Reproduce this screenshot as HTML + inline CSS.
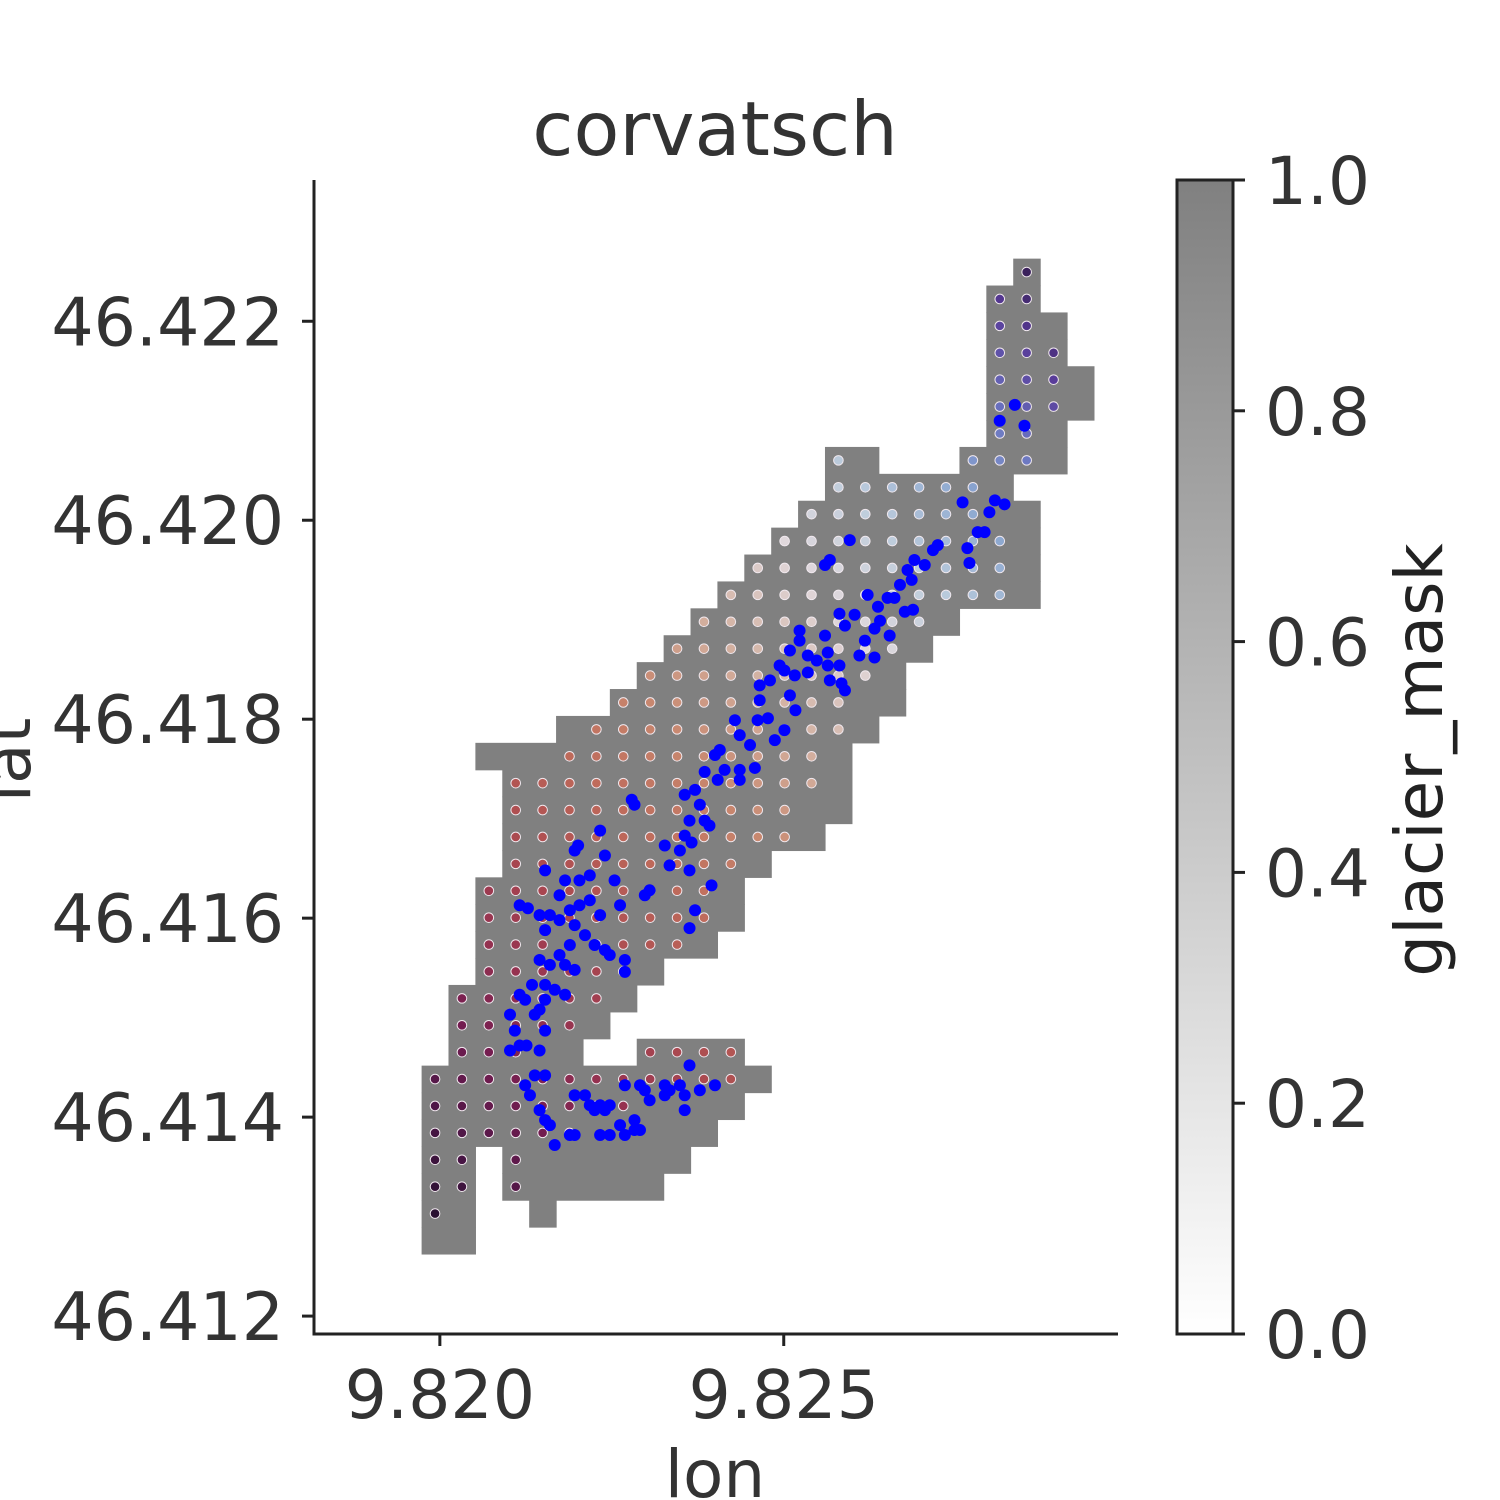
<!DOCTYPE html>
<html><head><meta charset="utf-8"><style>
html,body{margin:0;padding:0;background:#fff;}
svg{display:block;font-family:"DejaVu Sans","Liberation Sans",sans-serif;}
</style></head><body>
<svg id="chart" width="1500" height="1500" viewBox="0 0 1500 1500" xmlns="http://www.w3.org/2000/svg">
<defs><linearGradient id="cbg" x1="0" y1="1" x2="0" y2="0"><stop offset="0" stop-color="#ffffff"/><stop offset="1" stop-color="#808080"/></linearGradient></defs>
<text x="715" y="155" font-size="75" fill="#333" text-anchor="middle">corvatsch</text>
<g id="plot"></g>
<g id="axes"></g>
<text x="715" y="1497" font-size="66" fill="#333" text-anchor="middle">lon</text>
<text transform="translate(30,760) rotate(-90)" font-size="66" fill="#333" text-anchor="middle">lat</text>
<rect x="1177" y="180" width="56" height="1154" fill="url(#cbg)" stroke="#222" stroke-width="3"/>
<g id="cbar"></g>
<text transform="translate(1442,760) rotate(-90)" font-size="66" fill="#222" text-anchor="middle">glacier_mask</text>
</svg>
<script>
const xTicks=[9.820,9.825];
const xTickLabels=["9.820","9.825"];
const yTicks=[46.412,46.414,46.416,46.418,46.420,46.422];
const yTickLabels=["46.412","46.414","46.416","46.418","46.420","46.422"];
const cbTicks=[0,0.2,0.4,0.6,0.8,1.0];
const cbTickLabels=["0.0","0.2","0.4","0.6","0.8","1.0"];
const gridLon0=9.81993, gridDLon=0.000391, gridLat0=46.41276, gridDLat=0.0002704;
const maskRows=[[[0,1]],[[0,1],[4,4]],[[0,1],[3,8]],[[0,1],[3,9]],[[0,10]],[[0,11]],[[0,12]],[[1,5],[8,11]],[[1,6]],[[1,7]],[[2,8]],[[2,10]],[[2,11]],[[2,11]],[[3,12]],[[3,14]],[[3,15]],[[3,15]],[[2,15]],[[5,16]],[[7,17]],[[8,17]],[[9,18]],[[10,19]],[[11,22]],[[12,22]],[[13,22]],[[14,22]],[[15,21]],[[15,16],[20,23]],[[21,23]],[[21,24]],[[21,24]],[[21,23]],[[21,23]],[[21,22]],[[22,22]]];
const dotRows=[[],[[0,0]],[[0,1],[3,3]],[[0,1],[3,3]],[[0,5]],[[0,7]],[[0,11]],[[1,3],[8,11]],[[1,5]],[[1,6]],[[2,7]],[[2,9]],[[2,10]],[[2,10]],[[3,11]],[[3,13]],[[3,13]],[[3,14]],[[5,14]],[[6,15]],[[7,15]],[[8,16]],[[9,17]],[[10,18]],[[11,21]],[[12,21]],[[13,21]],[[14,20]],[[15,20]],[[15,15],[20,22]],[[21,22]],[[21,23]],[[21,23]],[[21,23]],[[21,22]],[[21,22]],[[22,22]]];
const obsLon=[9.82821,9.82807,9.82799,9.82792,9.82782,9.82767,9.82770,9.82760,9.82814,9.82836,9.82850,9.82724,9.82717,9.82705,9.82690,9.82680,9.82686,9.82669,9.82661,9.82688,9.82676,9.82651,9.82637,9.82622,9.82640,9.82632,9.82618,9.82610,9.82632,9.82654,9.82589,9.82560,9.82564,9.82564,9.82548,9.82581,9.82584,9.82589,9.82567,9.82535,9.82523,9.82509,9.82535,9.82516,9.82501,9.82509,9.82517,9.82501,9.82487,9.82465,9.82477,9.82462,9.82451,9.82436,9.82480,9.82494,9.82414,9.82436,9.82458,9.82407,9.82400,9.82385,9.82371,9.82356,9.82378,9.82363,9.82385,9.82392,9.82356,9.82349,9.82366,9.82327,9.82334,9.82363,9.82395,9.82371,9.82363,9.82305,9.82298,9.82283,9.82279,9.82233,9.82240,9.82254,9.82262,9.82218,9.82218,9.82233,9.82203,9.82203,9.82196,9.82211,9.82225,9.82240,9.82247,9.82269,9.82269,9.82196,9.82201,9.82182,9.82174,9.82189,9.82174,9.82160,9.82153,9.82189,9.82174,9.82182,9.82160,9.82145,9.82196,9.82153,9.82167,9.82182,9.82153,9.82116,9.82128,9.82145,9.82102,9.82109,9.82116,9.82126,9.82138,9.82145,9.82153,9.82145,9.82138,9.82153,9.82124,9.82131,9.82145,9.82153,9.82160,9.82167,9.82189,9.82196,9.82196,9.82211,9.82218,9.82225,9.82233,9.82240,9.82247,9.82262,9.82247,9.82269,9.82283,9.82283,9.82269,9.82291,9.82298,9.82305,9.82327,9.82327,9.82334,9.82349,9.82356,9.82356,9.82363,9.82378,9.82400,9.82102,9.82116,9.82124,9.82134,9.82596,9.82567,9.82560,9.82581,9.82603,9.82465,9.82429,9.82404,9.82436,9.82523,9.82153,9.82291,9.82233];
const obsLat=[46.42016,46.42020,46.42008,46.41988,46.41988,46.41972,46.41957,46.42018,46.42100,46.42116,46.42095,46.41975,46.41970,46.41955,46.41960,46.41950,46.41940,46.41935,46.41922,46.41910,46.41908,46.41922,46.41913,46.41925,46.41899,46.41891,46.41879,46.41864,46.41862,46.41884,46.41894,46.41884,46.41867,46.41854,46.41859,46.41854,46.41836,46.41829,46.41839,46.41864,46.41879,46.41869,46.41847,46.41844,46.41849,46.41824,46.41809,46.41789,46.41779,46.41819,46.41801,46.41799,46.41774,46.41784,46.41839,46.41854,46.41749,46.41749,46.41751,46.41769,46.41764,46.41747,46.41729,46.41724,46.41714,46.41698,46.41698,46.41693,46.41683,46.41668,46.41676,46.41673,46.41653,46.41648,46.41633,46.41608,46.41590,46.41628,46.41623,46.41714,46.41719,46.41688,46.41663,46.41638,46.41613,46.41643,46.41618,46.41603,46.41638,46.41613,46.41593,46.41583,46.41573,46.41568,46.41563,46.41558,46.41546,46.41668,46.41673,46.41638,46.41623,46.41608,46.41598,46.41603,46.41588,46.41573,46.41563,46.41553,46.41553,46.41558,46.41548,46.41533,46.41528,46.41523,46.41648,46.41613,46.41610,46.41603,46.41503,46.41487,46.41472,46.41472,46.41503,46.41508,46.41487,46.41467,46.41442,46.41442,46.41432,46.41422,46.41407,46.41397,46.41392,46.41372,46.41382,46.41382,46.41422,46.41422,46.41412,46.41407,46.41412,46.41407,46.41412,46.41392,46.41382,46.41382,46.41387,46.41397,46.41432,46.41432,46.41427,46.41417,46.41432,46.41422,46.41427,46.41432,46.41422,46.41407,46.41452,46.41427,46.41432,46.41467,46.41523,46.41518,46.41533,46.41980,46.41960,46.41955,46.41906,46.41905,46.41834,46.41799,46.41739,46.41739,46.41889,46.41518,46.41387,46.41382];

const NS="http://www.w3.org/2000/svg";
const X0=314,X1=1118,Y0=1334,Y1=180;
const lonMin=9.81817,lonMax=9.82986,latMin=46.41182,latMax=46.42342;
function sx(v){return X0+(v-lonMin)/(lonMax-lonMin)*(X1-X0);}
function sy(v){return Y0-(v-latMin)/(latMax-latMin)*(Y0-Y1);}
function cy(v){return Y0-v*(Y0-Y1);}
function mk(t,a,p){const e=document.createElementNS(NS,t);for(const k in a)e.setAttribute(k,a[k]);p.appendChild(e);return e;}
const plot=document.getElementById('plot'),axes=document.getElementById('axes'),cbar=document.getElementById('cbar');
const stops=[[0,[40,16,48]],[0.06,[75,22,70]],[0.13,[115,28,80]],[0.2,[150,50,80]],[0.28,[172,75,80]],[0.36,[190,105,90]],[0.45,[200,135,110]],[0.55,[212,180,165]],[0.64,[224,216,220]],[0.72,[190,205,220]],[0.8,[140,168,208]],[0.87,[105,115,192]],[0.93,[88,58,152]],[1,[35,15,45]]];
function cmap(t){t=Math.max(0,Math.min(1,t));for(let i=1;i<stops.length;i++){if(t<=stops[i][0]){const a=stops[i-1],b=stops[i],f=(t-a[0])/(b[0]-a[0]);return 'rgb('+a[1].map((v,j)=>Math.round(v+(b[1][j]-v)*f)).join(',')+')';}}return 'rgb(35,15,45)';}
maskRows.forEach((segs,k)=>{segs.forEach(s=>{
  const lonL=gridLon0+gridDLon*(s[0]-0.5),lonR=gridLon0+gridDLon*(s[1]+0.5);
  const latT=gridLat0+gridDLat*(k+0.5),latB=gridLat0+gridDLat*(k-0.5);
  const r=mk('rect',{x:sx(lonL),y:sy(latT),width:sx(lonR)-sx(lonL)+0.6,height:sy(latB)-sy(latT)+0.6,fill:'#808080'},plot);
  
  
});});
dotRows.forEach((segs,k)=>{segs.forEach(s=>{for(let c=s[0];c<=s[1];c++){
  const lon=gridLon0+gridDLon*c,lat=gridLat0+gridDLat*k;
  const t=0.45*(lon-9.8199)/0.0090+0.55*(lat-46.4130)/0.0097;
  const d=mk('circle',{cx:sx(lon),cy:sy(lat),r:4.8,fill:cmap(t),stroke:'#f0e8ee','stroke-width':1},plot);
  
  
}});});
obsLon.forEach((lon,i)=>{
  const p=mk('circle',{cx:sx(lon),cy:sy(obsLat[i]),r:6,fill:'#0000ff'},plot);
  
  
});
mk('line',{x1:X0,y1:Y1,x2:X0,y2:Y0,stroke:'#222','stroke-width':3},axes);
mk('line',{x1:X0-1.5,y1:Y0,x2:X1,y2:Y0,stroke:'#222','stroke-width':3},axes);
xTicks.forEach((v,i)=>{
  mk('line',{x1:sx(v),y1:Y0,x2:sx(v),y2:Y0+12,stroke:'#222','stroke-width':3},axes);
  const t=mk('text',{x:sx(v),y:1418,'font-size':66.5,fill:'#333','text-anchor':'middle'},axes);t.textContent=xTickLabels[i];
  
  
});
yTicks.forEach((v,i)=>{
  mk('line',{x1:X0-12,y1:sy(v),x2:X0,y2:sy(v),stroke:'#222','stroke-width':3},axes);
  const t=mk('text',{x:284,y:sy(v)+24,'font-size':66.5,fill:'#333','text-anchor':'end'},axes);t.textContent=yTickLabels[i];
  
  
});
cbTicks.forEach((v,i)=>{
  mk('line',{x1:1233,y1:cy(v),x2:1245,y2:cy(v),stroke:'#222','stroke-width':3},cbar);
  const t=mk('text',{x:1265,y:cy(v)+24,'font-size':66,fill:'#333'},cbar);t.textContent=cbTickLabels[i];
  
  
});
</script>
</body></html>
